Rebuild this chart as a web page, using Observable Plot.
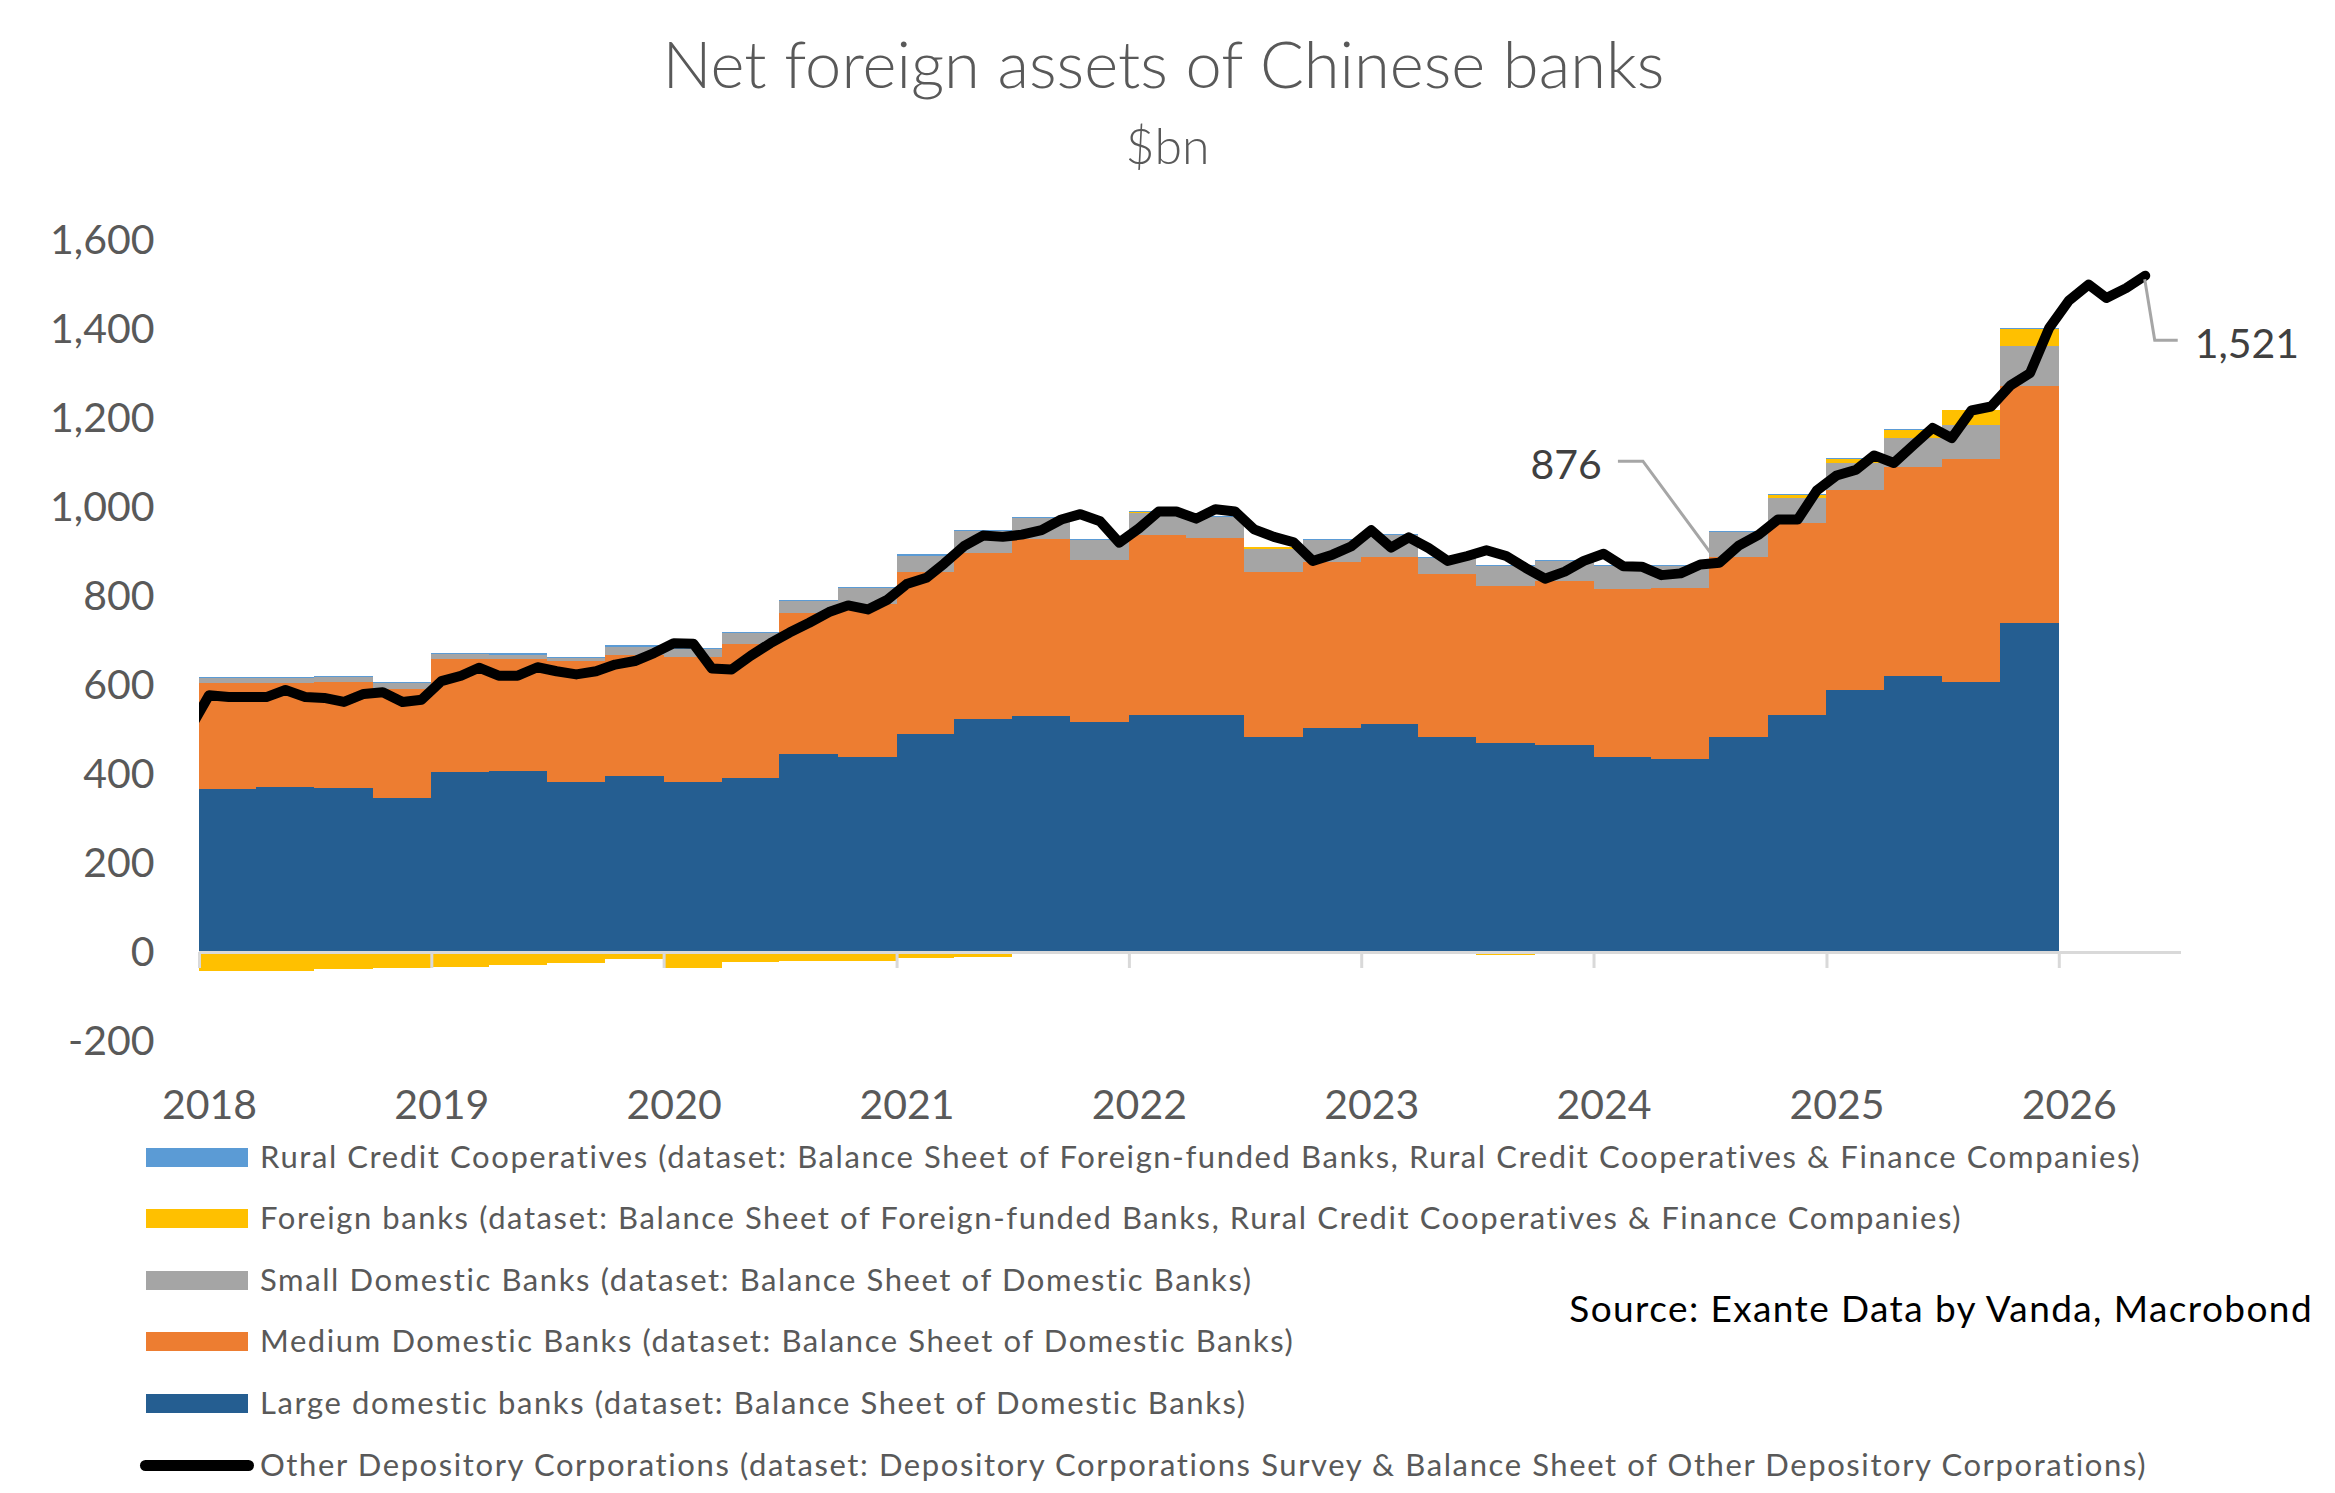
<!DOCTYPE html>
<html><head><meta charset="utf-8">
<script src="https://cdn.jsdelivr.net/npm/d3@7"></script>
<script src="https://cdn.jsdelivr.net/npm/@observablehq/plot@0.6"></script>
<style>
body{margin:0;background:#fff;}
#wrap{position:relative;width:2335px;height:1493px;font-family:Lato,sans-serif;color:#595959;overflow:hidden;background:#fff;}
.t{position:absolute;white-space:nowrap;line-height:1;}
#chart{position:absolute;left:0;top:180px;}
</style></head><body><div id="wrap"><div id="chart"></div></div>
<script>
// ---------- DATA ----------
const titleText = "Net foreign assets of Chinese banks";
const subtitleText = "$bn";
const sourceText = "Source: Exante Data by Vanda, Macrobond";

const quarters = ["2018 Q1","2018 Q2","2018 Q3","2018 Q4","2019 Q1","2019 Q2","2019 Q3","2019 Q4",
  "2020 Q1","2020 Q2","2020 Q3","2020 Q4","2021 Q1","2021 Q2","2021 Q3","2021 Q4",
  "2022 Q1","2022 Q2","2022 Q3","2022 Q4","2023 Q1","2023 Q2","2023 Q3","2023 Q4",
  "2024 Q1","2024 Q2","2024 Q3","2024 Q4","2025 Q1","2025 Q2","2025 Q3","2025 Q4"];

const largeDomestic = [367,371,369,347, 405,407,383,395, 381,390,445,438, 491,524,530,516,
  532,532,483,503, 513,483,469,465, 438,433,484,533, 589,620,606,740];
const mediumDomestic = [237,233,238,245, 253,251,271,272, 283,303,316,343, 363,372,398,364,
  405,399,371,373, 375,366,353,369, 378,385,403,432, 449,469,502,531];
const smallDomestic = [11,11,11,12, 12,10,6,19, 16,24,27,36, 37,49,47,46,
  50,47,52,50, 49,36,45,45, 51,49,56,56, 62,67,76,91];
const foreignBanks = [-43,-43,-38,-37, -34,-29,-25,-16, -37,-22,-20,-20, -14,-12,-1,0,
  2,0,3,-5, -5,-3,-7,0, 0,0,-3,7, 7,17,33,39];
const ruralCredit = [3,3,3,3, 3,3,3,3, 3,3,3,3, 3,3,3,3,
  2,2,2,2, 2,2,2,2, 2,2,2,2, 2,2,2,2];

const odcMonths = ["2017-12",
  "2018-01","2018-02","2018-03","2018-04","2018-05","2018-06","2018-07","2018-08","2018-09","2018-10","2018-11","2018-12",
  "2019-01","2019-02","2019-03","2019-04","2019-05","2019-06","2019-07","2019-08","2019-09","2019-10","2019-11","2019-12",
  "2020-01","2020-02","2020-03","2020-04","2020-05","2020-06","2020-07","2020-08","2020-09","2020-10","2020-11","2020-12",
  "2021-01","2021-02","2021-03","2021-04","2021-05","2021-06","2021-07","2021-08","2021-09","2021-10","2021-11","2021-12",
  "2022-01","2022-02","2022-03","2022-04","2022-05","2022-06","2022-07","2022-08","2022-09","2022-10","2022-11","2022-12",
  "2023-01","2023-02","2023-03","2023-04","2023-05","2023-06","2023-07","2023-08","2023-09","2023-10","2023-11","2023-12",
  "2024-01","2024-02","2024-03","2024-04","2024-05","2024-06","2024-07","2024-08","2024-09","2024-10","2024-11","2024-12",
  "2025-01","2025-02","2025-03","2025-04","2025-05","2025-06","2025-07","2025-08","2025-09","2025-10","2025-11","2025-12",
  "2026-01","2026-02","2026-03","2026-04","2026-05"];
const odcValues = [500,
  578,574,574,574,590,574,572,563,581,585,563,568,
  610,622,640,622,622,641,632,625,632,647,655,673,
  695,694,638,636,667,695,719,741,765,780,771,792,
  828,842,874,913,937,934,939,949,973,985,969,921,
  953,991,991,975,996,991,951,934,922,880,894,913,
  949,910,933,909,880,891,904,891,864,840,856,880,
  896,868,867,848,852,872,876,915,939,973,973,1038,
  1072,1085,1117,1100,1139,1179,1156,1218,1227,1274,1302,1403,
  1465,1501,1471,1493,1521];

const annotatedMonths = ["2024-07","2026-05"];

const yTicks = [-200,0,200,400,600,800,1000,1200,1400,1600];
const yearLabels = ["2018","2019","2020","2021","2022","2023","2024","2025","2026"];

const seriesNames = [
  "Rural Credit Cooperatives (dataset: Balance Sheet of Foreign-funded Banks, Rural Credit Cooperatives & Finance Companies)",
  "Foreign banks (dataset: Balance Sheet of Foreign-funded Banks, Rural Credit Cooperatives & Finance Companies)",
  "Small Domestic Banks (dataset: Balance Sheet of Domestic Banks)",
  "Medium Domestic Banks (dataset: Balance Sheet of Domestic Banks)",
  "Large domestic banks (dataset: Balance Sheet of Domestic Banks)"
];
const lineName = "Other Depository Corporations (dataset: Depository Corporations Survey & Balance Sheet of Other Depository Corporations)";
const seriesColors = ["#5B9BD5","#FFC000","#A5A5A5","#ED7D31","#255E91"];

// ---------- BUILD ----------
const seriesValues = [ruralCredit, foreignBanks, smallDomestic, mediumDomestic, largeDomestic];
const qStart = s => { const [y,q] = s.split(" Q").map(Number); return new Date(Date.UTC(y,(q-1)*3,1)); };
const qEnd = s => { const [y,q] = s.split(" Q").map(Number); return new Date(Date.UTC(y,q*3,1)); };
const rows = [];
quarters.forEach((q,i) => {
  seriesNames.forEach((name,k) => rows.push({x1:qStart(q), x2:qEnd(q), series:name, value:seriesValues[k][i]}));
});
const stackOrder = seriesNames.slice().reverse(); // bottom to top: large, medium, small, foreign, rural
const midMonth = s => { const [y,m] = s.split("-").map(Number); return new Date(Date.UTC(y,m-1,16)); };
const odc = odcMonths.map((m,i) => ({date: midMonth(m), value: odcValues[i], month: m}));
const yearDates = yearLabels.map(y => new Date(Date.UTC(+y,0,1)));

const annotStyle = {
  "2024-07": {p0:[-6,-6], elbow:[-76,-101], end:[-101,-101], text:[-117,-98], anchor:"end"},
  "2026-05": {p0:[0,4], elbow:[10,65], end:[33,65], text:[50,68], anchor:"start"}
};
const annots = annotatedMonths.map(m => odc.find(d => d.month === m));

function annotationMark(index, scales) {
  const g = d3.create("svg:g");
  for (const a of annots) {
    const st = annotStyle[a.month];
    const px = scales.x(a.date), py = scales.y(a.value);
    g.append("path")
      .attr("d", `M${px+st.p0[0]},${py+st.p0[1]}L${px+st.elbow[0]},${py+st.elbow[1]}L${px+st.end[0]},${py+st.end[1]}`)
      .attr("fill","none").attr("stroke","#A6A6A6").attr("stroke-width",3);
    g.append("text")
      .attr("x", px+st.text[0]).attr("y", py+st.text[1]).attr("dy","0.36em")
      .attr("text-anchor", st.anchor).attr("fill","#404040")
      .style("font-size","41px").style("font-family","Lato, sans-serif")
      .text(a.value.toLocaleString("en-US"));
  }
  return g.node();
}

const chart = Plot.plot({
  width: 2335, height: 950,
  marginLeft: 199, marginRight: 154, marginTop: 60, marginBottom: 89,
  style: {fontFamily: "Lato, sans-serif", fontSize: "41px", color: "#595959", background: "transparent", overflow: "visible"},
  x: {type: "utc", domain: [new Date(Date.UTC(2018,0,1)), new Date(Date.UTC(2026,6,12))]},
  y: {domain: [-200, 1600]},
  color: {domain: seriesNames, range: seriesColors},
  marks: [
    Plot.axisY({ticks: yTicks, tickSize: 0, tickPadding: 45, tickFormat: d => d.toLocaleString("en-US"), label: null, fill: "#595959"}),
    Plot.axisX({ticks: yearDates, tickSize: 0, tickPadding: 48, tickFormat: d3.utcFormat("%Y"), label: null, dx: 10, fill: "#595959"}),
    Plot.rectY(rows, {x1: "x1", x2: "x2", y: "value", fill: "series", order: stackOrder, shapeRendering: "crispEdges"}),
    Plot.ruleY([0], {stroke: "#D9D9D9", strokeWidth: 3}),
    Plot.ruleX(yearDates, {x: d => d, y1: 0, y2: 0, insetBottom: -16, stroke: "#D9D9D9", strokeWidth: 3}),
    Plot.line(odc, {x: "date", y: "value", stroke: "#000", strokeWidth: 10, strokeLinejoin: "round", strokeLinecap: "round", clip: true}),
    annotationMark
  ]
});
document.getElementById("chart").appendChild(chart);

// ---------- HTML TEXT ----------
const wrap = document.getElementById("wrap");
function addText(txt, opts) {
  const d = document.createElement("div");
  d.className = "t"; d.textContent = txt;
  Object.assign(d.style, opts);
  wrap.appendChild(d);
  return d;
}
// title & subtitle (centred)
addText(titleText, {left:"0", width:"2335px", textAlign:"center", fontSize:"65px", fontWeight:"300", top:(65-0.527*65)+"px", color:"#595959", paddingRight:"8px", boxSizing:"border-box"});
addText(subtitleText, {left:"0", width:"2335px", textAlign:"center", fontSize:"50px", fontWeight:"300", top:(146-0.527*50)+"px", color:"#595959"});

// legend
const legendItems = seriesNames.map((n,i) => ({name:n, color:seriesColors[i], line:false}))
  .concat([{name: lineName, color:"#000", line:true}]);
const legendFont = 31;
legendItems.forEach((it,i) => {
  const yc = 1157 + 61.6*i;
  const sw = document.createElement("div");
  sw.style.position = "absolute";
  if (it.line) {
    Object.assign(sw.style, {left:"140px", width:"114px", height:"11px", top:(yc-5.5)+"px", background:it.color, borderRadius:"6px"});
  } else {
    Object.assign(sw.style, {left:"146px", width:"102px", height:"19px", top:(yc-9.5)+"px", background:it.color});
  }
  wrap.appendChild(sw);
  addText(it.name, {left:"260px", fontSize:legendFont+"px", letterSpacing:"1.6px", top:(yc-0.527*legendFont)+"px", color:"#595959"});
});
addText(sourceText, {right:"22px", fontSize:"37px", letterSpacing:"1.4px", top:(1308-0.527*37)+"px", color:"#000"});
</script>
</body></html>
